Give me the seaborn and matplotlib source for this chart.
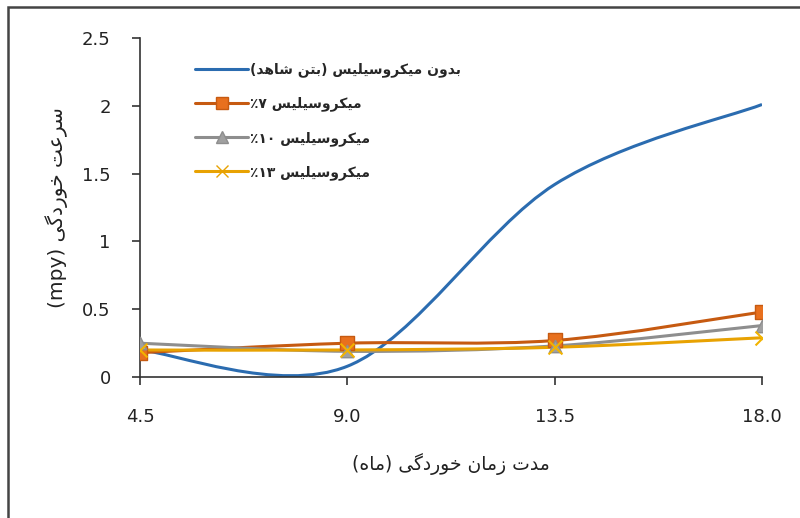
import re
import numpy as np
import pandas as pd
import matplotlib
matplotlib.use("Agg")
import matplotlib.pyplot as plt
import seaborn as sns
from matplotlib.path import Path
from matplotlib.patches import PathPatch, Rectangle
from matplotlib.lines import Line2D

# ----------------------------------------
# Data
# ----------------------------------------
months = [4.5, 9.0, 13.5, 18.0]
control = [0.20, 0.08, 1.42, 2.01]
ms7 = [0.18, 0.25, 0.27, 0.48]
ms10 = [0.25, 0.19, 0.23, 0.38]
ms13 = [0.20, 0.20, 0.22, 0.29]

series_names = [
    "بدون میکروسیلیس (بتن شاهد)",
    "میکروسیلیس ۷٪",
    "میکروسیلیس ۱۰٪",
    "میکروسیلیس ۱۳٪",
]
x_label = "مدت زمان خوردگی (ماه)"
y_label = "سرعت خوردگی (mpy)"
x_ticks = [4.5, 9.0, 13.5, 18.0]
y_ticks = [0, 0.5, 1, 1.5, 2, 2.5]

# ----------------------------------------
# Minimal Persian shaping (matplotlib has no shaping / bidi)
# ----------------------------------------
FORMS = {
    "ا": ("\uFE8D", "\uFE8E", None, None),
    "ب": ("\uFE8F", "\uFE90", "\uFE91", "\uFE92"),
    "ت": ("\uFE95", "\uFE96", "\uFE97", "\uFE98"),
    "خ": ("\uFEA5", "\uFEA6", "\uFEA7", "\uFEA8"),
    "د": ("\uFEA9", "\uFEAA", None, None),
    "ر": ("\uFEAD", "\uFEAE", None, None),
    "ز": ("\uFEAF", "\uFEB0", None, None),
    "س": ("\uFEB1", "\uFEB2", "\uFEB3", "\uFEB4"),
    "ش": ("\uFEB5", "\uFEB6", "\uFEB7", "\uFEB8"),
    "ع": ("\uFEC9", "\uFECA", "\uFECB", "\uFECC"),
    "ل": ("\uFEDD", "\uFEDE", "\uFEDF", "\uFEE0"),
    "م": ("\uFEE1", "\uFEE2", "\uFEE3", "\uFEE4"),
    "ن": ("\uFEE5", "\uFEE6", "\uFEE7", "\uFEE8"),
    "ه": ("\uFEE9", "\uFEEA", "\uFEEB", "\uFEEC"),
    "و": ("\uFEED", "\uFEEE", None, None),
    "ک": ("\uFB8E", "\uFB8F", "\uFB90", "\uFB91"),
    "گ": ("\uFB92", "\uFB93", "\uFB94", "\uFB95"),
    "ی": ("\uFBFC", "\uFBFD", "\uFBFE", "\uFBFF"),
}
MIRROR = {"(": ")", ")": "("}


def fa(s):
    out = []
    for i, c in enumerate(s):
        if c not in FORMS:
            out.append(c)
            continue
        prev = s[i - 1] if i > 0 else ""
        nxt = s[i + 1] if i + 1 < len(s) else ""
        jp = prev in FORMS and FORMS[prev][2] is not None
        jn = FORMS[c][2] is not None and nxt in FORMS
        iso, fin, ini, med = FORMS[c]
        if jp and jn:
            out.append(med)
        elif jp:
            out.append(fin)
        elif jn:
            out.append(ini)
        else:
            out.append(iso)
    shaped = "".join(out)
    runs = re.findall(r"[A-Za-z0-9.۰-۹]+|[^A-Za-z0-9.۰-۹]+", shaped)
    vis = []
    for r in reversed(runs):
        if re.match(r"[A-Za-z0-9.۰-۹]", r):
            vis.append(r)
        else:
            vis.append("".join(MIRROR.get(ch, ch) for ch in reversed(r)))
    return "".join(vis)


def smooth_path(xs, ys):
    # Excel-like smoothed line drawn as cubic Bezier segments
    pts = np.column_stack([xs, ys])
    verts = [pts[0]]
    codes = [Path.MOVETO]
    n = len(pts)
    for i in range(n - 1):
        p0 = pts[max(i - 1, 0)]
        p1 = pts[i]
        p2 = pts[i + 1]
        p3 = pts[min(i + 2, n - 1)]
        verts += [p1 + (p2 - p0) / 6, p2 - (p3 - p1) / 6, p2]
        codes += [Path.CURVE4] * 3
    return Path(verts, codes)


# ----------------------------------------
# Plot
# ----------------------------------------
sns.set_theme(style="white")
plt.rcParams["font.family"] = ["DejaVu Sans"]

colors = ["#2B6CB0", "#C65A11", "#8E8E8E", "#E8A202"]
markers = [None, "s", "^", "x"]
all_series = [control, ms7, ms10, ms13]

fig = plt.figure(figsize=(8, 5.18), dpi=100)
ax = fig.add_axes([0.175, 0.272, 0.7775, 0.6546])

for name, vals, col, mk in zip(series_names, all_series, colors, markers):
    ax.add_patch(PathPatch(smooth_path(months, vals), fill=False,
                           edgecolor=col, linewidth=2.2, zorder=2))

df = pd.DataFrame({
    "month": months * 3,
    "value": ms7 + ms10 + ms13,
    "series": ["7"] * 4 + ["10"] * 4 + ["13"] * 4,
})
sns.scatterplot(data=df[df.series == "7"], x="month", y="value", ax=ax,
                marker="s", s=100, color="#E8701E", edgecolor=colors[1],
                linewidth=1, zorder=3, legend=False)
sns.scatterplot(data=df[df.series == "10"], x="month", y="value", ax=ax,
                marker="^", s=80, color="#A0A0A0", edgecolor="#8E8E8E",
                linewidth=1, zorder=3, legend=False)
sns.scatterplot(data=df[df.series == "13"], x="month", y="value", ax=ax,
                marker="x", s=100, color="#F2B300", linewidth=1.5,
                zorder=3, legend=False)

ax.set_xlim(4.5, 18.0)
ax.set_ylim(0, 2.5)
ax.set_xticks(x_ticks)
ax.set_xticklabels([f"{v:.1f}" for v in x_ticks])
ax.set_yticks(y_ticks)
ax.set_yticklabels([f"{v:g}" for v in y_ticks])
ax.tick_params(axis="both", direction="out", length=6, width=1.2,
               color="#333333", labelsize=13, labelcolor="#222222",
               left=True, bottom=True)
ax.tick_params(axis="x", pad=16)
ax.tick_params(axis="y", pad=15)

for side in ["top", "right"]:
    ax.spines[side].set_visible(False)
for side in ["left", "bottom"]:
    ax.spines[side].set_color("#333333")
    ax.spines[side].set_linewidth(1.2)

ax.set_xlabel(fa(x_label), fontsize=13.5, labelpad=20, color="#222222")
ax.set_ylabel(fa(y_label), fontsize=14.5, labelpad=10, color="#222222")

handles = []
for name, col, mk in zip(series_names, colors, markers):
    mfc = {"s": "#E8701E", "^": "#A0A0A0", "x": "#F2B300"}.get(mk, col)
    handles.append(Line2D([], [], color=col, linewidth=2.2, marker=mk,
                          markersize=8, markerfacecolor=mfc,
                          markeredgecolor=col))
ax.legend(handles, [fa(n) for n in series_names], loc="upper left",
          bbox_to_anchor=(0.069, 0.965), frameon=False,
          prop={"size": 10, "weight": "bold"},
          handlelength=3.8, labelspacing=1.4, handletextpad=0.1)

# outer frame of the original figure
fig.add_artist(Rectangle((0.01, -0.2), 1.2, 0.2 + 0.986, transform=fig.transFigure,
                         fill=False, edgecolor="#444444", linewidth=1.8))

plt.savefig("out.png", dpi=100)
plt.close()
